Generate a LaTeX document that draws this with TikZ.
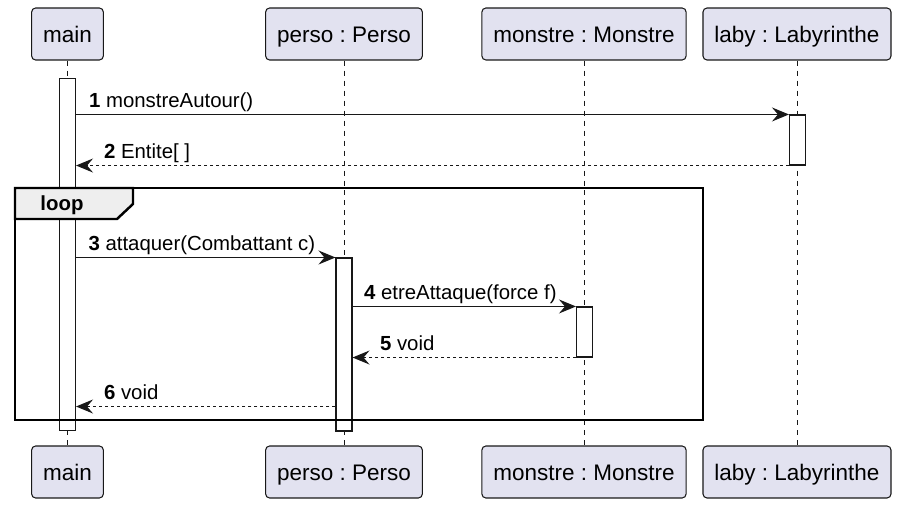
\documentclass[tikz,border=0pt]{standalone}
\usepackage{fontspec}
\setmainfont{Liberation Sans}
\usetikzlibrary{arrows.meta}
\frenchspacing
\definecolor{partfill}{HTML}{E2E2F0}
\definecolor{partline}{HTML}{181818}
\definecolor{tabfill}{HTML}{EEEEEE}
\tikzset{
  part/.style={draw=partline, fill=partfill, rounded corners=0.08cm, line width=0.6pt,
    minimum height=1.04cm, inner xsep=0.23cm, text height=0.97em, text depth=0em,
    font=\fontsize{12.8}{15}\selectfont},
  act/.style={draw=partline, fill=white, minimum width=0.32cm, inner sep=0pt, line width=0.6pt},
  lifeline/.style={partline, line width=0.55pt, dash pattern=on 0.1cm off 0.1cm},
  msg/.style={partline, line width=0.6pt, -{Stealth[length=0.34cm,width=0.28cm,inset=0.12cm]}},
  ret/.style={msg, dash pattern=on 0.06cm off 0.06cm},
  lbl/.style={anchor=base west, inner sep=0pt, text=black, font=\fontsize{11.6}{14}\selectfont},
  frame/.style={draw=black, line width=1.4pt},
}
\begin{document}
\begin{tikzpicture}[x=0.02cm, y=-0.02cm]
  \useasboundingbox (0,0) rectangle (900,506);
  % participants
  \node[part] (head-main) at (67.5,34) {main};
  \node[part] (head-perso) at (344,34) {perso : Perso};
  \node[part] (head-monstre) at (584,34) {monstre : Monstre};
  \node[part] (head-laby) at (797,34) {laby : Labyrinthe};
  \node[part] (foot-main) at (67.5,472) {main};
  \node[part] (foot-perso) at (344,472) {perso : Perso};
  \node[part] (foot-monstre) at (584,472) {monstre : Monstre};
  \node[part] (foot-laby) at (797,472) {laby : Labyrinthe};
  \foreach \p in {main,perso,monstre,laby}
    \draw[lifeline] (head-\p.south) -- (foot-\p.north);
  % activations
  \node[act, minimum height=7.06cm] (act-main) at (67.5,254.5) {};
  \node[act, minimum height=3.46cm] (act-perso) at (344,344.5) {};
  \node[act, minimum height=1cm] (act-monstre) at (584.5,332) {};
  \node[act, minimum height=1cm] (act-laby) at (797.5,140) {};
  % loop frame
  \draw[frame] (15,188) rectangle (703,420);
  \draw[frame, fill=tabfill] (15,188) -- (133,188) -- (133,204) -- (117,219) -- (15,219) -- cycle;
  \node[font=\bfseries\fontsize{11.6}{14}\selectfont, inner sep=0pt] (loop-lbl) at (62,205.5) {loop};
  % messages
  \draw[msg] (act-main.east |- act-laby.north west) -- (act-laby.north west)
    node[lbl, pos=0, xshift=0.25cm, yshift=0.14cm] {\textbf{1} monstreAutour()};
  \draw[ret] (act-laby.south west) -- (act-main.east |- act-laby.south west)
    node[lbl, pos=1, xshift=0.55cm, yshift=0.15cm] {\textbf{2} Entite[ ]};
  \draw[msg] (act-main.east |- act-perso.north west) -- (act-perso.north west)
    node[lbl, pos=0, xshift=0.24cm, yshift=0.14cm] {\textbf{3} attaquer(Combattant c)};
  \draw[msg] (act-perso.east |- act-monstre.north west) -- (act-monstre.north west)
    node[lbl, pos=0, xshift=0.22cm, yshift=0.14cm] {\textbf{4} etreAttaque(force f)};
  \draw[ret] (act-monstre.south west) -- (act-perso.east |- act-monstre.south west)
    node[lbl, pos=1, xshift=0.54cm, yshift=0.15cm] {\textbf{5} void};
  \coordinate (back-six) at ([yshift=0.5cm]act-perso.south west);
  \draw[ret] (back-six) -- (act-main.east |- back-six)
    node[lbl, pos=1, xshift=0.55cm, yshift=0.15cm] {\textbf{6} void};
\end{tikzpicture}
\end{document}
